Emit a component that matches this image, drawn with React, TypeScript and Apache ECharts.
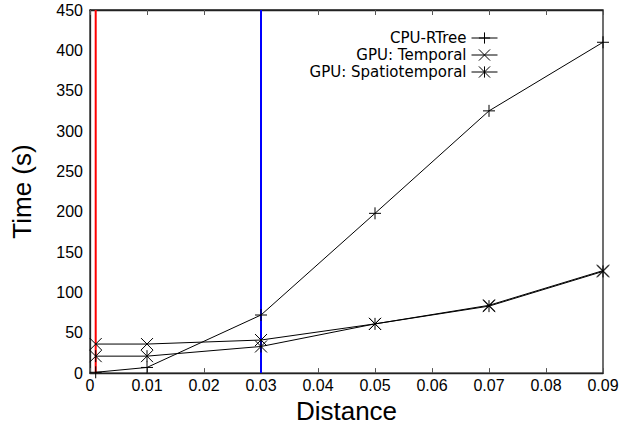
import React, { useEffect, useRef } from "react";
import * as echarts from "echarts";

const distances = [0.001, 0.01, 0.03, 0.05, 0.07, 0.09];
const cpuRTree = [1, 7, 72, 198, 325, 410];
const gpuTemporal = [36, 36, 41, 61, 84, 127];
const gpuSpatiotemporal = [21, 21, 33, 61, 83, 126];
const seriesNames = ["CPU-RTree", "GPU: Temporal", "GPU: Spatiotemporal"];
const redLineAt = 0.001;
const blueLineAt = 0.03;
const yMax = 450;

const PLUS = "path://M0,5L10,5M5,0L5,10";
const CROSS = "path://M0,0L10,10M0,10L10,0";
const STAR = "path://M0,0L10,10M0,10L10,0M5,0L5,10";

export default function App() {
  const ref = useRef<HTMLDivElement>(null);
  useEffect(() => {
    if (!ref.current) return;
    const chart = echarts.init(ref.current, null, { renderer: "svg" });
    const pair = (ys: number[]) => distances.map((x, i) => [x, ys[i]]);
    const mk = (name: string, ys: number[], symbol: string) => ({
      name,
      type: "line",
      data: pair(ys),
      symbol,
      symbolSize: 12,
      showSymbol: true,
      lineStyle: { color: "#000", width: 1 },
      itemStyle: { color: "#000", borderColor: "#000", borderWidth: 1 },
      z: 3,
    });
    const vline = (x: number, color: string) => ({
      type: "line",
      data: [
        [x, 0],
        [x, yMax],
      ],
      symbol: "none",
      silent: true,
      lineStyle: { color, width: 2 },
      z: 1,
    });
    chart.setOption({
      animation: false,
      grid: { left: 90, right: 20, top: 10, bottom: 50, show: true, borderColor: "#222", borderWidth: 1.3 },
      legend: {
        orient: "vertical",
        right: 120,
        top: 25,
        align: "right",
        itemWidth: 26,
        itemHeight: 14,
        itemGap: 1,
        textStyle: { fontFamily: "DejaVu Sans", fontSize: 15, lineHeight: 16, color: "#000" },
        itemStyle: { borderWidth: 1 },
        lineStyle: { width: 1 },
        data: seriesNames,
      },
      xAxis: [
        {
          type: "value",
          min: 0,
          max: 0.09,
          interval: 0.01,
          name: "Distance",
          nameLocation: "middle",
          nameGap: 21,
          nameTextStyle: { fontFamily: "Liberation Sans", fontSize: 26, color: "#000" },
          axisLine: { show: true, lineStyle: { color: "#222", width: 1.3 } },
          axisTick: { show: true, inside: true, length: 5, lineStyle: { color: "#555" } },
          axisLabel: { fontFamily: "Liberation Sans", fontSize: 16, color: "#000", margin: 4 },
          splitLine: { show: false },
        },
        {
          type: "value",
          position: "top",
          min: 0,
          max: 0.09,
          interval: 0.01,
          axisLine: { show: true, lineStyle: { color: "#222", width: 1.3 } },
          axisTick: { show: true, inside: true, length: 5, lineStyle: { color: "#555" } },
          axisLabel: { show: false },
          splitLine: { show: false },
        },
      ],
      yAxis: {
        type: "value",
        min: 0,
        max: yMax,
        interval: 50,
        name: "Time (s)",
        nameLocation: "middle",
        nameGap: 55,
        nameTextStyle: { fontFamily: "Liberation Sans", fontSize: 26, color: "#000" },
        axisLine: { show: true, lineStyle: { color: "#222", width: 1.3 } },
        axisTick: { show: false },
        axisLabel: { fontFamily: "Liberation Sans", fontSize: 16, color: "#000", margin: 7 },
        splitLine: { show: false },
      },
      series: [
        vline(redLineAt, "#ff0000"),
        vline(blueLineAt, "#0000ff"),
        mk(seriesNames[0], cpuRTree, PLUS),
        mk(seriesNames[1], gpuTemporal, CROSS),
        mk(seriesNames[2], gpuSpatiotemporal, STAR),
      ],
    });
    return () => chart.dispose();
  }, []);
  return (
    <div
      ref={ref}
      style={{ position: "fixed", left: 0, top: 0, width: 623, height: 429, background: "#fff" }}
    />
  );
}
